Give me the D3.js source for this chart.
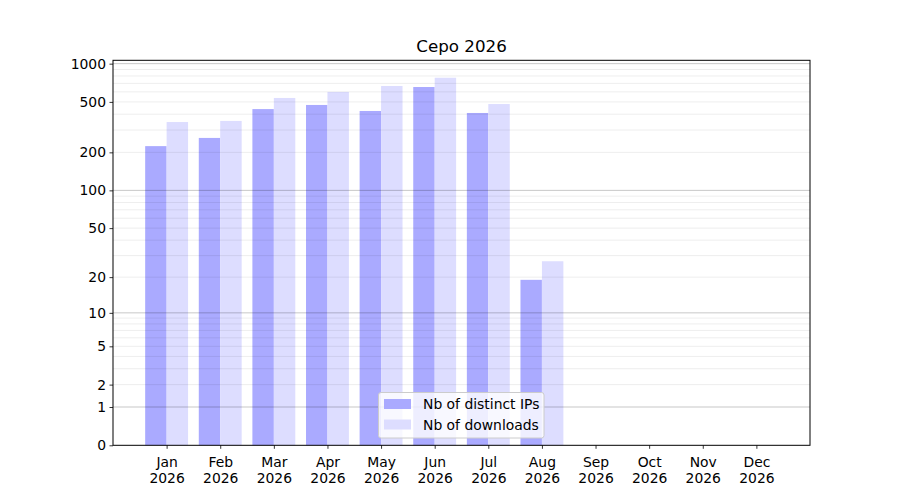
<!DOCTYPE html>
<html><head><meta charset="utf-8">
<script src="https://cdn.jsdelivr.net/npm/d3@7"></script>
<style>body{margin:0;background:#fff}svg{display:block}text{font-family:"DejaVu Sans",sans-serif;fill:#000}</style>
</head><body><div id="chart"></div>
<script>
const title = "Cepo 2026";
const months = ["Jan","Feb","Mar","Apr","May","Jun","Jul","Aug","Sep","Oct","Nov","Dec"];
const year = "2026";
const distinctIPs = [224, 260, 439, 473, 424, 655, 409, 19, null, null, null, null];
const downloads   = [347, 354, 537, 599, 667, 775, 481, 27, null, null, null, null];
const seriesNames = ["Nb of distinct IPs", "Nb of downloads"];
const yTicks = [0, 1, 2, 5, 10, 20, 50, 100, 200, 500, 1000];
const majorGrid = [1, 10, 100, 1000];
const minorGrid = [2,3,4,5,6,7,8,9,20,30,40,50,60,70,80,90,200,300,400,500,600,700,800,900];

const W = 900, H = 500;
const L = 113, R = 810, T = 60.3, B = 445.3;
const FS = "13.9px";
const svg = d3.select("#chart").append("svg").attr("width", W).attr("height", H);

const x = d3.scaleLinear().domain([-1, 12]).range([L, R]);
const y = d3.scaleSymlog().constant(1).domain([0, 1063]).range([B, T]);
const bw = 0.4;

const gBars = svg.append("g");
gBars.selectAll("rect.ip").data(distinctIPs.map((v,i)=>({v,i})).filter(d=>d.v!=null))
  .join("rect").attr("x", d=>x(d.i-bw)).attr("width", d=>x(d.i)-x(d.i-bw))
  .attr("y", d=>y(d.v)).attr("height", d=>B-y(d.v)).attr("fill", "#aaaaff");
gBars.selectAll("rect.dl").data(downloads.map((v,i)=>({v,i})).filter(d=>d.v!=null))
  .join("rect").attr("x", d=>x(d.i)).attr("width", d=>x(d.i+bw)-x(d.i))
  .attr("y", d=>y(d.v)).attr("height", d=>B-y(d.v)).attr("fill", "#ddddff");

// grid
const gGrid = svg.append("g");
gGrid.selectAll("line.minor").data(minorGrid).join("line")
  .attr("x1", L).attr("x2", R).attr("y1", d=>y(d)).attr("y2", d=>y(d))
  .attr("stroke", "#000").attr("stroke-opacity", 0.07).attr("stroke-width", 1);
gGrid.selectAll("line.major").data(majorGrid).join("line")
  .attr("x1", L).attr("x2", R).attr("y1", d=>y(d)).attr("y2", d=>y(d))
  .attr("stroke", "#000").attr("stroke-opacity", 0.22).attr("stroke-width", 1);

// axes
const yAxis = d3.axisLeft(y).tickValues(yTicks).tickFormat(d3.format("d")).tickSize(3.5).tickPadding(3.5);
const gy = svg.append("g").attr("transform", `translate(${L},0)`).call(yAxis);
gy.select(".domain").remove();
gy.selectAll("text").attr("font-size", FS).style("font-family", "DejaVu Sans");
gy.selectAll("line").attr("stroke-width", 0.8);

const xAxis = d3.axisBottom(x).tickValues(d3.range(12)).tickFormat(()=>"").tickSize(3.5);
const gx = svg.append("g").attr("transform", `translate(0,${B})`).call(xAxis);
gx.select(".domain").remove();
gx.selectAll("line").attr("stroke-width", 0.8);
gx.selectAll(".tick").each(function(d){
  const t = d3.select(this).append("text").attr("text-anchor","middle").attr("font-size",FS).style("font-family","DejaVu Sans");
  t.append("tspan").attr("x",0).attr("y",21.5).text(months[d]);
  t.append("tspan").attr("x",0).attr("y",37.5).text(year);
});

svg.append("rect").attr("x", L).attr("y", T).attr("width", R-L).attr("height", B-T)
  .attr("fill", "none").attr("stroke", "#000").attr("stroke-width", 1);

svg.append("text").attr("x", (L+R)/2).attr("y", 52).attr("text-anchor","middle")
  .attr("font-size","16.7px").text(title);

// legend
const lg = svg.append("g").attr("transform", "translate(378.5,392.5)");
lg.append("rect").attr("width", 165.5).attr("height", 45.5).attr("rx", 2.5)
  .attr("fill", "#fff").attr("fill-opacity", 0.8).attr("stroke", "#cccccc").attr("stroke-width", 1);
const cols = ["#aaaaff", "#ddddff"];
seriesNames.forEach((n,i)=>{
  lg.append("rect").attr("x", 5.5).attr("y", 6.5 + i*20.5).attr("width", 27).attr("height", 10).attr("fill", cols[i]);
  lg.append("text").attr("x", 44.5).attr("y", 16.5 + i*20.5).attr("font-size",FS).text(n);
});
</script></body></html>
